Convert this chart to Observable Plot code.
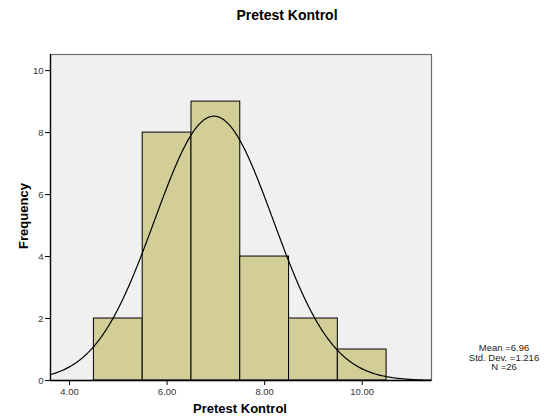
<!DOCTYPE html>
<html><head><meta charset="utf-8">
<script src="https://cdn.jsdelivr.net/npm/d3@7"></script>
<script src="https://cdn.jsdelivr.net/npm/@observablehq/plot@0.6"></script>
<style>
body{margin:0;background:#fff;font-family:"Liberation Sans",Arial,sans-serif;}
#wrap{position:relative;width:550px;height:417px;}
.t{position:absolute;white-space:nowrap;color:#000;}
</style></head>
<body><div id="wrap"></div>
<script>
const binStart = [4.5, 5.5, 6.5, 7.5, 8.5, 9.5];
const binEnd = [5.5, 6.5, 7.5, 8.5, 9.5, 10.5];
const counts = [2, 8, 9, 4, 2, 1];
const xTicks = [4, 6, 8, 10];
const xTickLabels = ["4.00", "6.00", "8.00", "10.00"];
const yTicks = [0, 2, 4, 6, 8, 10];
const mean = 6.96, sd = 1.216, n = 26;
const title = "Pretest Kontrol";
const xLabel = "Pretest Kontrol";
const yLabel = "Frequency";
const stats = ["Mean =6.96", "Std. Dev. =1.216", "N =26"];

const xDomain = [3.61, 11.42];
const yDomain = [0, 10.52];
const bins = binStart.map((s, i) => ({x1: s, x2: binEnd[i], y: counts[i]}));
const curveX = d3.range(xDomain[0], xDomain[1] + 0.001, 0.02);
const curve = curveX.map(x => ({x, y: n * 1 / (sd * Math.sqrt(2 * Math.PI)) * Math.exp(-0.5 * ((x - mean) / sd) ** 2)}));

const chart = Plot.plot({
  width: 550, height: 417,
  marginLeft: 50, marginRight: 119, marginTop: 54, marginBottom: 37,
  style: {fontFamily: '"Liberation Sans", Arial, sans-serif', background: "transparent"},
  x: {domain: xDomain},
  y: {domain: yDomain},
  marks: [
    Plot.frame({fill: "#f0f0f0", stroke: "#6e6e6e", strokeWidth: 1.2}),
    Plot.rectY(bins, {x1: "x1", x2: "x2", y: "y", fill: "#d3ce97", stroke: "#000", strokeWidth: 1}),
    Plot.line(curve, {x: "x", y: "y", stroke: "#000", strokeWidth: 1.2}),
    Plot.ruleX([xDomain[0]], {stroke: "#000", strokeWidth: 1.3}),
    Plot.ruleY([0], {stroke: "#000", strokeWidth: 1.3}),
    Plot.axisX({ticks: xTicks, tickFormat: (d) => xTickLabels[xTicks.indexOf(d)], tickSize: 5, tickPadding: 3, fontSize: 9.5, stroke: "#000", label: null}),
    Plot.axisY({ticks: yTicks, tickFormat: d3.format("d"), tickSize: 5, tickPadding: 2, fontSize: 9.5, stroke: "#000", label: null})
  ]
});
const wrap = document.getElementById("wrap");
wrap.appendChild(chart);
chart.style.position = "absolute"; chart.style.left = "0"; chart.style.top = "0";
chart.querySelectorAll("g[aria-label='x-axis tick label'], g[aria-label='y-axis tick label']").forEach(g => g.setAttribute("fill", "#333"));

function addText(txt, css) {
  const d = document.createElement("div");
  d.className = "t"; d.textContent = txt;
  Object.assign(d.style, css);
  wrap.appendChild(d);
  return d;
}
addText(title, {left: "287px", top: "7px", transform: "translateX(-50%)", fontSize: "14px", fontWeight: "bold"});
addText(xLabel, {left: "240px", top: "401px", transform: "translateX(-50%)", fontSize: "13px", fontWeight: "bold"});
addText(yLabel, {left: "23px", top: "216px", transform: "translate(-50%,-50%) rotate(-90deg)", fontSize: "13px", fontWeight: "bold"});
const s = addText("", {left: "504px", top: "343px", transform: "translateX(-50%)", fontSize: "9.5px", lineHeight: "9.5px", textAlign: "center", color: "#222"});
s.innerHTML = stats.join("<br>");
</script></body></html>
